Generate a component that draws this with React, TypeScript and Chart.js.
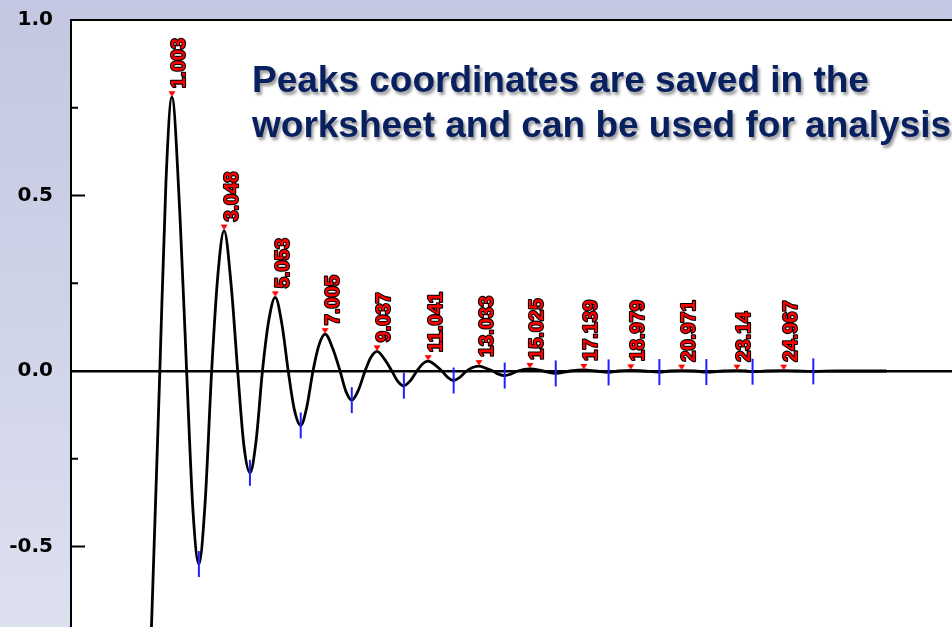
import React, { useEffect, useRef } from "react";
import { Chart, registerables } from "chart.js";

Chart.register(...registerables);

// Damped oscillation
const curveX = [
  0.0, 0.22, 0.53, 0.77, 1.003, 1.32, 1.58, 1.83, 2.06, 2.3, 2.56, 2.8, 3.048, 3.33, 3.58,
  3.82, 4.06, 4.3, 4.55, 4.8, 5.053, 5.32, 5.56, 5.8, 6.05, 6.28, 6.53, 6.76, 7.005, 7.3,
  7.59, 7.82, 8.05, 8.3, 8.57, 8.8, 9.037, 9.33, 9.62, 9.86, 10.09, 10.34, 10.6, 10.82,
  11.041, 11.32, 11.58, 11.82, 12.04, 12.28, 12.55, 12.78, 13.033, 13.3, 13.58, 13.8,
  14.04, 14.3, 14.55, 15.025, 15.55, 16.04, 16.6, 17.139, 17.6, 18.11, 18.5, 18.979, 19.5,
  20.1, 20.5, 20.971, 21.5, 21.94, 22.6, 23.14, 23.5, 23.75, 24.3, 24.967, 25.5, 26.13,
  27.0, 29.0,
];
const curveY = [
  -1.15, -0.69, 0.0, 0.54, 0.78, 0.44, 0.0, -0.4, -0.55, -0.38, 0.0, 0.27, 0.4, 0.24, 0.0,
  -0.21, -0.29, -0.2, 0.0, 0.145, 0.21, 0.13, 0.0, -0.11, -0.155, -0.105, 0.0, 0.073, 0.105,
  0.065, 0.0, -0.058, -0.083, -0.056, 0.0, 0.039, 0.056, 0.034, 0.0, -0.03, -0.042, -0.028,
  0.0, 0.02, 0.028, 0.017, 0.0, -0.019, -0.027, -0.018, 0.0, 0.01, 0.014, 0.008, 0.0,
  -0.009, -0.013, -0.008, 0.0, 0.006, 0.0, -0.007, 0.0, 0.003, 0.0, -0.004, 0.0, 0.002, 0.0,
  -0.003, 0.0, 0.001, 0.0, -0.003, 0.0, 0.001, 0.0, -0.002, 0.0, 0.001, 0.0, -0.001, 0.0,
  0.0,
];

// Detected peaks (red markers + labels)
const peakX = [1.003, 3.048, 5.053, 7.005, 9.037, 11.041, 13.033, 15.025, 17.139, 18.979, 20.971, 23.14, 24.967];
const peakY = [0.78, 0.4, 0.21, 0.105, 0.056, 0.028, 0.014, 0.006, 0.003, 0.002, 0.001, 0.001, 0.001];

// Detected valleys (blue bars)
const valleyX = [2.06, 4.06, 6.05, 8.05, 10.09, 12.04, 14.04, 16.04, 18.11, 20.1, 21.94, 23.75, 26.13];
const valleyY = [-0.55, -0.29, -0.155, -0.083, -0.042, -0.027, -0.013, -0.007, -0.004, -0.003, -0.003, -0.002, -0.001];

const noteLines = ["Peaks coordinates are saved in the", "worksheet and can be used for analysis"];

export default function App() {
  const ref = useRef<HTMLCanvasElement>(null);

  useEffect(() => {
    const canvas = ref.current;
    if (!canvas) return;

    const marker = document.createElement("canvas");
    marker.width = 10;
    marker.height = 24;
    const mc = marker.getContext("2d")!;
    mc.fillStyle = "#ff0000";
    mc.beginPath();
    mc.moveTo(1.5, 6);
    mc.lineTo(8.5, 6);
    mc.lineTo(5, 11.5);
    mc.closePath();
    mc.fill();

    const zeroPad = (s: any) => {
      s.paddingTop = 0;
      s.paddingBottom = 0;
      s.paddingLeft = 0;
      s.paddingRight = 0;
    };

    const plotBg = {
      id: "plotBg",
      beforeDraw(chart: any) {
        const { ctx, chartArea: a } = chart;
        ctx.save();
        ctx.fillStyle = "#ffffff";
        ctx.fillRect(a.left, a.top, a.right - a.left, a.bottom - a.top);
        ctx.restore();
      },
    };

    const frame = {
      id: "frame",
      afterDatasetsDraw(chart: any) {
        const { ctx, chartArea: a } = chart;
        const ys = chart.scales.y;
        ctx.save();
        ctx.strokeStyle = "#000";
        ctx.lineWidth = 2;
        ctx.beginPath();
        ctx.moveTo(a.left, a.bottom);
        ctx.lineTo(a.left, a.top);
        ctx.lineTo(a.right, a.top);
        ctx.stroke();
        const vals = ys.ticks.map((t: any) => t.value);
        ctx.beginPath();
        vals.forEach((v: number, i: number) => {
          const p = ys.getPixelForValue(v);
          ctx.moveTo(a.left, p);
          ctx.lineTo(a.left + 14, p);
          if (i < vals.length - 1) {
            const m = ys.getPixelForValue((v + vals[i + 1]) / 2);
            ctx.moveTo(a.left, m);
            ctx.lineTo(a.left + 7, m);
          }
        });
        ctx.stroke();
        ctx.restore();
      },
    };

    const peakLabels = {
      id: "peakLabels",
      afterDatasetsDraw(chart: any) {
        const { ctx } = chart;
        const meta = chart.getDatasetMeta(1);
        ctx.save();
        ctx.font = "bold 20px 'Liberation Sans', Arial, sans-serif";
        ctx.textAlign = "left";
        ctx.textBaseline = "middle";
        ctx.lineJoin = "round";
        meta.data.forEach((el: any, i: number) => {
          ctx.save();
          ctx.translate(el.x + 8, el.y - 9);
          ctx.rotate(-Math.PI / 2);
          ctx.strokeStyle = "#000";
          ctx.lineWidth = 2.2;
          ctx.strokeText(String(peakX[i]), 0, 0);
          ctx.fillStyle = "#ff0000";
          ctx.fillText(String(peakX[i]), 0, 0);
          ctx.restore();
        });
        ctx.restore();
      },
    };

    const note = {
      id: "note",
      afterDraw(chart: any) {
        const { ctx } = chart;
        ctx.save();
        ctx.font = "bold 37px 'Liberation Sans', Arial, sans-serif";
        ctx.textAlign = "left";
        ctx.textBaseline = "alphabetic";
        ctx.fillStyle = "#08205f";
        ctx.shadowColor = "rgba(0,0,0,0.4)";
        ctx.shadowOffsetX = 2;
        ctx.shadowOffsetY = 3;
        ctx.shadowBlur = 3;
        ctx.fillText(noteLines[0], 252, 92);
        ctx.fillText(noteLines[1], 252, 137);
        ctx.restore();
      },
    };

    const chart = new Chart(canvas, {
      type: "scatter",
      data: {
        datasets: [
          {
            label: "valleys",
            data: valleyX.map((x, i) => ({ x, y: valleyY[i] })),
            pointStyle: "line",
            rotation: 90,
            radius: 13,
            borderColor: "#2020ff",
            backgroundColor: "#2020ff",
            borderWidth: 2,
          } as any,
          {
            label: "peaks",
            data: peakX.map((x, i) => ({ x, y: peakY[i] })),
            pointStyle: marker,
            radius: 5,
          } as any,
          {
            type: "line",
            label: "curve",
            data: curveX.map((x, i) => ({ x, y: curveY[i] })),
            borderColor: "#000000",
            borderWidth: 2.8,
            pointRadius: 0,
            cubicInterpolationMode: "monotone",
            fill: false,
          } as any,
        ],
      },
      options: {
        responsive: false,
        animation: false,
        events: [],
        layout: { autoPadding: false, padding: { top: 20, bottom: 15, left: 0, right: 0 } },
        plugins: { legend: { display: false }, tooltip: { enabled: false } },
        scales: {
          x: {
            type: "linear",
            display: false,
            min: -2.95,
            max: 35.05,
            ticks: { display: false },
            afterFit: zeroPad,
          },
          y: {
            type: "linear",
            min: -1,
            max: 1,
            afterFit: (s: any) => {
              s.width = 71;
              zeroPad(s);
            },
            ticks: {
              stepSize: 0.5,
              padding: 18,
              color: "#000",
              font: { family: "'DejaVu Sans'", size: 20, weight: "bold" },
              callback: (v: any) => Number(v).toFixed(1),
            },
            grid: {
              drawTicks: false,
              color: (c: any) => (c.tick && c.tick.value === 0 ? "#000000" : "rgba(0,0,0,0)"),
              lineWidth: (c: any) => (c.tick && c.tick.value === 0 ? 2.4 : 1),
            },
            border: { display: false },
          },
        },
      } as any,
      plugins: [plotBg, frame, peakLabels, note],
    });

    return () => chart.destroy();
  }, []);

  return (
    <div
      style={{
        position: "fixed",
        left: 0,
        top: 0,
        width: 952,
        height: 627,
        overflow: "hidden",
        background: "linear-gradient(180deg, #c3c7e1 0%, #dde0ef 100%)",
      }}
    >
      <canvas ref={ref} width={1041} height={737} style={{ display: "block" }} />
    </div>
  );
}
